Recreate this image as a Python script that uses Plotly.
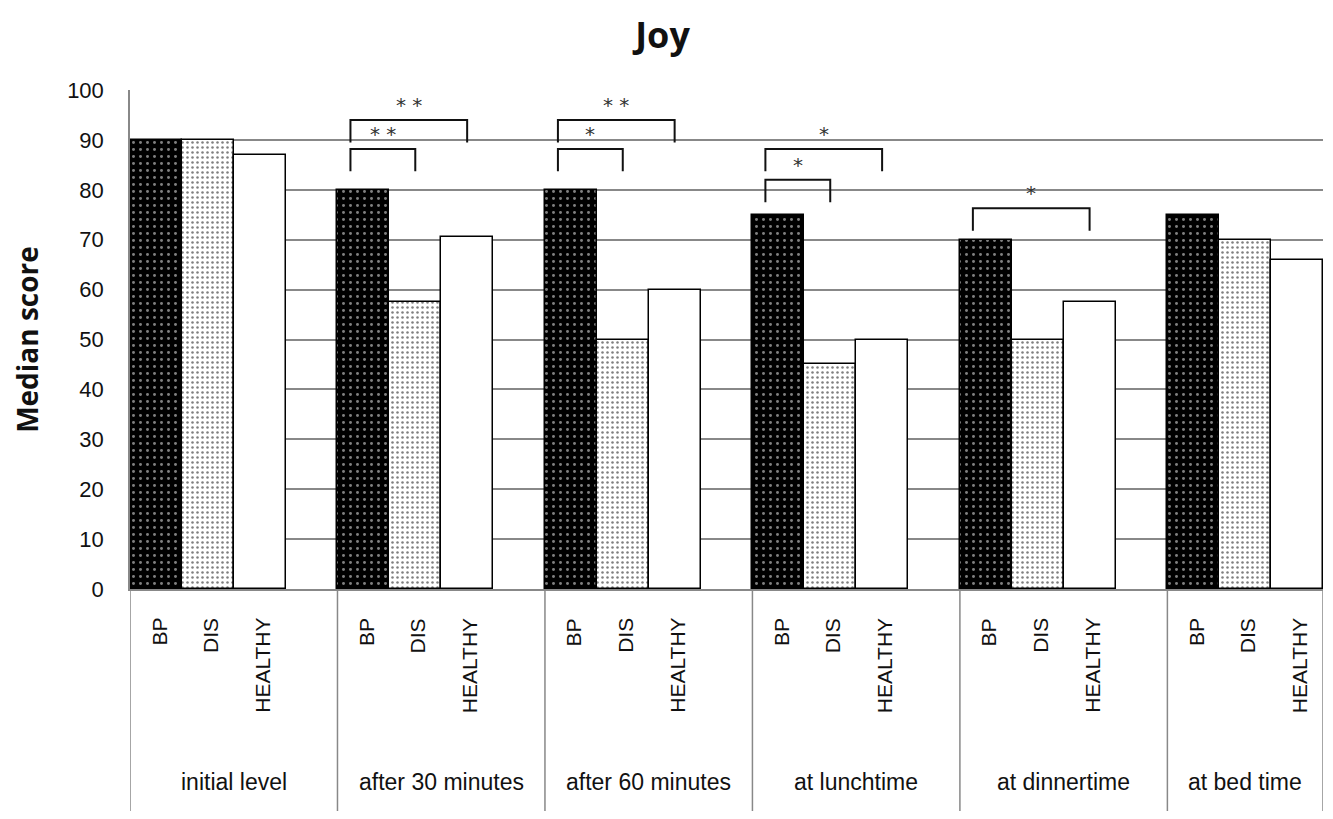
import plotly.graph_objects as go

# ---------------- data ----------------
groups = ["initial level", "after 30 minutes", "after 60 minutes",
          "at lunchtime", "at dinnertime", "at bed time"]
subgroups = ["BP", "DIS", "HEALTHY"]
bp_values = [90, 80, 80, 75, 70, 75]
dis_values = [90, 57.5, 50, 45, 50, 70]
healthy_values = [87, 70.5, 60, 50, 57.5, 66]
y_ticks = [0, 10, 20, 30, 40, 50, 60, 70, 80, 90, 100]

# significance brackets: group index, from subgroup, to subgroup, bracket top value, label
sig_group = [1, 1, 2, 2, 3, 3, 4]
sig_from = [0, 0, 0, 0, 0, 0, 0]
sig_to = [1, 2, 1, 2, 1, 2, 2]
sig_top = [88.2, 94.0, 88.2, 94.0, 82.0, 88.2, 76.3]
sig_label = ["* *", "* *", "*", "* *", "*", "*", "*"]

# ---------------- layout helpers ----------------
SLOTS_PER_GROUP = 4  # 3 bars + 1 empty slot between groups


def slot(g, s):
    return g * SLOTS_PER_GROUP + s


n_slots = slot(len(groups) - 1, len(subgroups) - 1) + 1

fig = go.Figure()

series = [bp_values, dis_values, healthy_values]
patterns = [
    dict(shape=".", bgcolor="#000000", fgcolor="#ffffff", size=7, solidity=0.14),
    dict(shape=".", bgcolor="#ffffff", fgcolor="#000000", size=5, solidity=0.2),
    dict(shape="", bgcolor="#ffffff", fgcolor="#ffffff"),
]
for si, vals in enumerate(series):
    fig.add_trace(go.Bar(
        x=[slot(g, si) for g in range(len(groups))],
        y=vals,
        width=1.0,
        name=subgroups[si],
        marker=dict(color="#ffffff" if si else "#000000",
                    pattern=patterns[si],
                    line=dict(color="#000000", width=1.5)),
        showlegend=False,
        hoverinfo="skip",
    ))

# figure geometry (pixels); page body adds an 8px offset
W, H = 1325, 811
L, R, T, B = 122, 10, 82, 230
plot_h = H - T - B


def py(pix_below_axis):
    return -pix_below_axis / plot_h


shapes = []
annotations = []

# separators below the axis
sep_positions = [slot(g, 0) - 0.5 for g in range(len(groups))] + [n_slots - 0.5]
for xs in sep_positions:
    shapes.append(dict(type="line", xref="x", yref="paper", x0=xs, x1=xs,
                       y0=0, y1=py(222), line=dict(color="#888888", width=1.5)))

# subgroup labels (rotated)
for g in range(len(groups)):
    for si, name in enumerate(subgroups):
        annotations.append(dict(
            x=slot(g, si) + 0.05, y=py(27), xref="x", yref="paper",
            text=name, textangle=-90, showarrow=False,
            xanchor="center", yanchor="top",
            font=dict(family="Liberation Sans", size=21, color="#111111")))
    # group label
    if g < len(groups) - 1:
        cx = slot(g, 0) + (SLOTS_PER_GROUP - 1) / 2
    else:
        cx = slot(g, 1)
    annotations.append(dict(
        x=cx, y=py(193), xref="x", yref="paper", text=groups[g],
        showarrow=False, xanchor="center", yanchor="middle",
        font=dict(family="Liberation Sans", size=23, color="#111111")))

# significance brackets
LEG = 4.5
for g, a, b, top, lab in zip(sig_group, sig_from, sig_to, sig_top, sig_label):
    x0 = slot(g, a) - 0.25
    x1 = slot(g, b)
    fig.add_trace(go.Scatter(
        x=[x0, x0, x1, x1], y=[top - LEG, top, top, top - LEG],
        mode="lines", line=dict(color="#111111", width=2),
        showlegend=False, hoverinfo="skip"))
    annotations.append(dict(
        x=(x0 + x1) / 2, y=top + 3.0, xref="x", yref="y", text=lab,
        showarrow=False, xanchor="center", yanchor="middle",
        font=dict(family="DejaVu Sans", size=20, color="#333333")))

fig.update_layout(
    width=W, height=H,
    margin=dict(l=L, r=R, t=T, b=B),
    plot_bgcolor="#ffffff", paper_bgcolor="#ffffff",
    title=dict(text="<b>Joy</b>", x=0.494, xanchor="center", y=0.966, yanchor="middle",
               font=dict(family="Open Sans", size=36, color="#111111")),
    bargap=0,
    xaxis=dict(range=[-0.5, n_slots - 0.5], showticklabels=False, ticks="",
               showgrid=False, zeroline=False, showline=True,
               linecolor="#888888", linewidth=1.5, fixedrange=True),
    yaxis=dict(range=[0, 100], tickvals=y_ticks, showgrid=True,
               gridcolor="#888888", gridwidth=1.5, zeroline=False,
               showline=True, linecolor="#888888", linewidth=1.5,
               ticks="", ticklabelstandoff=20,
               tickfont=dict(family="Liberation Sans", size=22, color="#111111"),
               title=dict(text="<b>Median score</b>", standoff=22,
                          font=dict(family="Open Sans", size=28, color="#111111"))),
    shapes=shapes,
    annotations=annotations,
)

fig.write_html("out.html")
